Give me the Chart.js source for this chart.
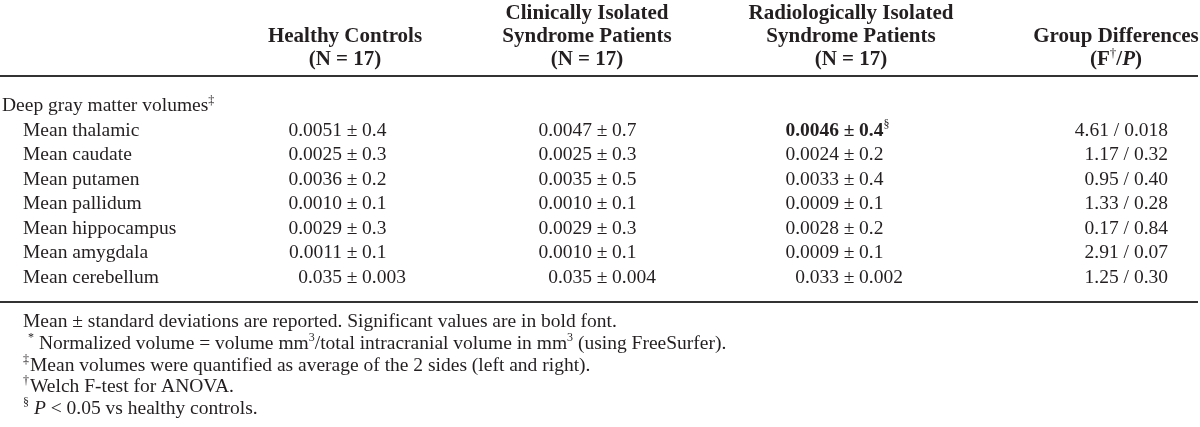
<!DOCTYPE html>
<html>
<head>
<meta charset="utf-8">
<script src="https://cdn.jsdelivr.net/npm/chart.js@4.4.0/dist/chart.umd.min.js"></script>
<style>
  html, body { margin: 0; padding: 0; background: #ffffff; }
  #tbl { display: block; }
</style>
</head>
<body>
<canvas id="tbl" width="1200" height="427"></canvas>
<script>
// ---------------- table content ----------------
var sectionLabel = 'Deep gray matter volumes';
var rowLabels = ['Mean thalamic', 'Mean caudate', 'Mean putamen', 'Mean pallidum', 'Mean hippocampus', 'Mean amygdala', 'Mean cerebellum'];

var hcMean  = ['0.0051', '0.0025', '0.0036', '0.0010', '0.0029', '0.0011', '0.035'];
var hcSd    = ['0.4', '0.3', '0.2', '0.1', '0.3', '0.1', '0.003'];
var cisMean = ['0.0047', '0.0025', '0.0035', '0.0010', '0.0029', '0.0010', '0.035'];
var cisSd   = ['0.7', '0.3', '0.5', '0.1', '0.3', '0.1', '0.004'];
var risMean = ['0.0046', '0.0024', '0.0033', '0.0009', '0.0028', '0.0009', '0.033'];
var risSd   = ['0.4', '0.2', '0.4', '0.1', '0.2', '0.1', '0.002'];
var fStat   = ['4.61', '1.17', '0.95', '1.33', '0.17', '2.91', '1.25'];
var pValue  = ['0.018', '0.32', '0.40', '0.28', '0.84', '0.07', '0.30'];
// significant cells: [column, row]
var boldCells = [[2, 0]];

var groupNames = [['Healthy Controls'], ['Clinically Isolated', 'Syndrome Patients'], ['Radiologically Isolated', 'Syndrome Patients']];
var groupN = [17, 17, 17];

// ---------------- layout ----------------
var FONT = "'Liberation Serif', 'Times New Roman', serif";
var SIZE = 19.5;       // body + notes
var HEAD_SIZE = 21;    // bold column headers
var INK = '#231f20';
var COL_X = [352, 602, 849, 1168];          // ± anchors, last column right edge
var PM_GAP = 10;
var HEAD_X = [345, 587, 851, 1116];
var HEAD_Y = [12, 35, 58];
var ROW0 = 105, ROWH = 24.5;
var RULES = [76, 302];
var NOTE_Y0 = 321, NOTE_H = 21.6;

function rowY(i) { return ROW0 + i * ROWH; }

function fontOf(s) {
    var base = s.h ? HEAD_SIZE : SIZE;
    var sz = s.sup ? Math.round(base * 0.62) : base;
    return (s.i ? 'italic ' : '') + (s.b ? 'bold ' : '') + sz + 'px ' + FONT;
}

function richWidth(ctx, segs) {
    var w = 0;
    segs.forEach(function (s) { ctx.font = fontOf(s); s.w = ctx.measureText(s.t).width + (s.dx || 0); w += s.w; });
    return w;
}

// draws a list of text runs, y is the text centre
function drawRich(ctx, segs, x, y, align) {
    var w = richWidth(ctx, segs);
    var cx = align === 'center' ? x - w / 2 : (align === 'right' ? x - w : x);
    ctx.textAlign = 'left';
    ctx.textBaseline = 'alphabetic';
    ctx.fillStyle = INK;
    segs.forEach(function (s) {
        var sz = s.h ? HEAD_SIZE : SIZE;
        var base = y + sz * 0.33;
        ctx.font = fontOf(s);
        ctx.fillText(s.t, cx + (s.dx || 0), s.sup ? base - sz * 0.4 : base);
        cx += s.w;
    });
}

function isBold(c, r) {
    return boldCells.some(function (b) { return b[0] === c && b[1] === r; });
}

var means = [hcMean, cisMean, risMean];
var sds = [hcSd, cisSd, risSd];

function cellDraw(ctx, c, r, x, y) {
    if (c < 3) {
        var b = isBold(c, r);
        drawRich(ctx, [{ t: means[c][r], b: b }], x - PM_GAP, y, 'right');
        drawRich(ctx, [{ t: '\u00b1', b: b }], x, y, 'center');
        var right = [{ t: sds[c][r], b: b }];
        if (b) right.push({ t: '\u00a7', sup: true });
        drawRich(ctx, right, x + PM_GAP, y, 'left');
    } else {
        drawRich(ctx, [{ t: fStat[r] + ' / ' + pValue[r] }], x, y, 'right');
    }
}

var notes = [
    [{ t: 'Mean \u00b1 standard deviations are reported. Significant values are in bold font.' }],
    [{ t: '*', sup: true, dx: 5 }, { t: ' Normalized volume = volume mm' }, { t: '3', sup: true }, { t: '/total intracranial volume in mm' }, { t: '3', sup: true }, { t: ' (using FreeSurfer).' }],
    [{ t: '\u2021', sup: true }, { t: 'Mean volumes were quantified as average of the 2 sides (left and right).', dx: 1 }],
    [{ t: '\u2020', sup: true }, { t: 'Welch F-test for ANOVA.', dx: 1 }],
    [{ t: '\u00a7', sup: true }, { t: ' ' }, { t: 'P', i: true }, { t: ' < 0.05 vs healthy controls.' }]
];

var tablePlugin = {
    id: 'tablePlugin',
    afterDatasetsDraw: function (chart) {
        var ctx = chart.ctx;
        var xs = chart.scales.x, ys = chart.scales.y;
        ctx.save();

        // header
        groupNames.forEach(function (lines, g) {
            var hx = xs.getPixelForValue(HEAD_X[g]);
            var start = 2 - lines.length;
            lines.forEach(function (ln, k) {
                drawRich(ctx, [{ t: ln, b: true, h: true }], hx, ys.getPixelForValue(HEAD_Y[start + k]), 'center');
            });
            drawRich(ctx, [{ t: '(N = ' + groupN[g] + ')', b: true, h: true }], hx, ys.getPixelForValue(HEAD_Y[2]), 'center');
        });
        var gx = xs.getPixelForValue(HEAD_X[3]);
        drawRich(ctx, [{ t: 'Group Differences', b: true, h: true }], gx, ys.getPixelForValue(HEAD_Y[1]), 'center');
        drawRich(ctx, [{ t: '(F', b: true, h: true }, { t: '\u2020', sup: true, h: true }, { t: '/', b: true, h: true },
            { t: 'P', b: true, i: true, h: true }, { t: ')', b: true, h: true }],
            gx, ys.getPixelForValue(HEAD_Y[2]), 'center');

        // rules
        ctx.strokeStyle = '#333333';
        ctx.lineWidth = 1.8;
        RULES.forEach(function (r) {
            var py = ys.getPixelForValue(r);
            ctx.beginPath();
            ctx.moveTo(xs.getPixelForValue(0), py);
            ctx.lineTo(xs.getPixelForValue(1198), py);
            ctx.stroke();
        });

        // row labels
        drawRich(ctx, [{ t: sectionLabel }, { t: '\u2021', sup: true }], xs.getPixelForValue(2), ys.getPixelForValue(rowY(0)), 'left');
        rowLabels.forEach(function (lab, i) {
            drawRich(ctx, [{ t: lab }], xs.getPixelForValue(23), ys.getPixelForValue(rowY(i + 1)), 'left');
        });

        // cells, positioned by the dataset points
        chart.data.datasets.forEach(function (ds, c) {
            chart.getDatasetMeta(c).data.forEach(function (pt, r) {
                cellDraw(ctx, c, r, pt.x, pt.y);
            });
        });

        // footnotes
        notes.forEach(function (segs, k) {
            drawRich(ctx, segs, xs.getPixelForValue(23), ys.getPixelForValue(NOTE_Y0 + k * NOTE_H), 'left');
        });
        ctx.restore();
    }
};

function columnPoints(c) {
    return rowLabels.map(function (lab, i) { return { x: COL_X[c], y: rowY(i + 1) }; });
}

var tableChart = new Chart(document.getElementById('tbl').getContext('2d'), {
    type: 'scatter',
    data: {
        datasets: [
            { label: 'Healthy Controls', data: columnPoints(0), pointRadius: 0 },
            { label: 'Clinically Isolated Syndrome Patients', data: columnPoints(1), pointRadius: 0 },
            { label: 'Radiologically Isolated Syndrome Patients', data: columnPoints(2), pointRadius: 0 },
            { label: 'Group Differences', data: columnPoints(3), pointRadius: 0 }
        ]
    },
    options: {
        responsive: false,
        devicePixelRatio: 1,
        animation: false,
        layout: { padding: 0 },
        plugins: { legend: { display: false }, tooltip: { enabled: false } },
        scales: {
            x: { type: 'linear', min: 0, max: 1200, display: false },
            y: { type: 'linear', min: 0, max: 427, reverse: true, display: false }
        }
    },
    plugins: [tablePlugin]
});
</script>
</body>
</html>
